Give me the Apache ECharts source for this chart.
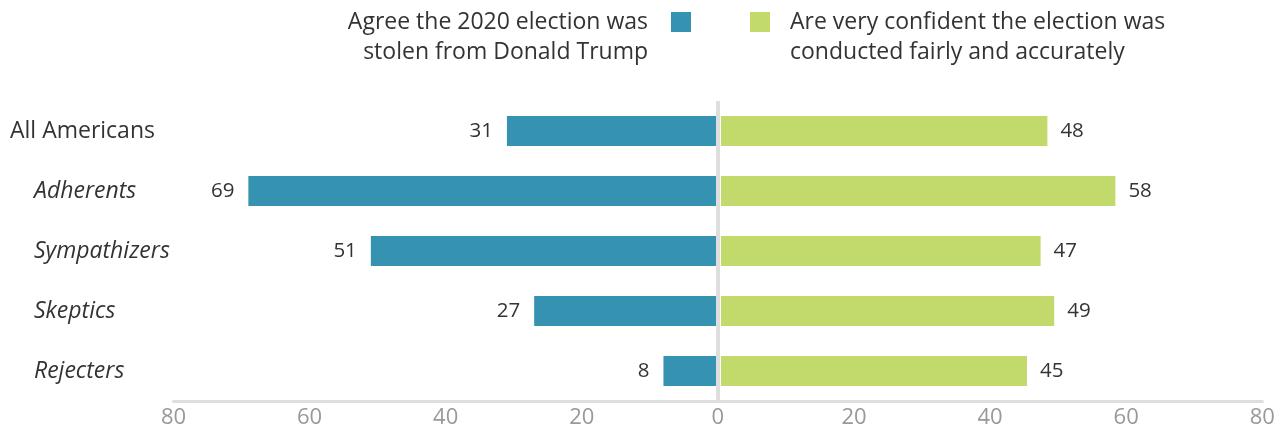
<!DOCTYPE html>
<html>
<head>
<meta charset="utf-8">
<script src="https://cdn.jsdelivr.net/npm/echarts@6/dist/echarts.min.js"></script>
<style>
  html, body { margin: 0; padding: 0; background: #fff; }
  #chart { width: 1286px; height: 431px; }
</style>
</head>
<body>
<div id="chart"></div>
<script>
// Survey groups, top to bottom
const categories = ['All Americans', 'Adherents', 'Sympathizers', 'Skeptics', 'Rejecters'];
// Share (%) agreeing the 2020 election was stolen
const stolenValues = [31, 69, 51, 27, 8];
// Share (%) very confident the election was conducted fairly
const confidentValues = [48, 58, 47, 49, 45];
// Axis tick values (left side shown as positive numbers)
const tickValues = [-80, -60, -40, -20, 0, 20, 40, 60, 80];

const stolenName = 'Agree the 2020 election was\nstolen from Donald Trump';
const confidentName = 'Are very confident the election was\nconducted fairly and accurately';

const FONT = '"Open Sans", "Noto Sans", sans-serif';
const TEAL = '#3592b0';
const GREEN = '#c2d96b';
const RULE = '#dedede';

const chart = echarts.init(document.getElementById('chart'), null, { renderer: 'canvas' });

const legendText = { fontFamily: FONT, fontSize: 23, lineHeight: 30, color: '#333' };

chart.setOption({
  animation: false,
  textStyle: { fontFamily: FONT },
  grid: [
    // full-width grid: shared scale, tick labels, left-hand bars
    { left: 173.5, right: 23.7, top: 101, bottom: 30 },
    // right-hand bars start just past the zero rule
    { left: 721, right: 21, top: 101, bottom: 30 }
  ],
  legend: [
    {
      data: [stolenName],
      right: 590,
      top: -28,
      align: 'right',
      icon: 'rect',
      itemWidth: 20,
      itemHeight: 20,
      selectedMode: false,
      formatter: n => '\n' + n,
      textStyle: Object.assign({ padding: [0, 18, 0, 0] }, legendText)
    },
    {
      data: [confidentName],
      left: 745,
      top: -28,
      align: 'left',
      icon: 'rect',
      itemWidth: 20,
      itemHeight: 20,
      selectedMode: false,
      formatter: n => '\n' + n,
      textStyle: Object.assign({ padding: [0, 0, 0, 15] }, legendText)
    }
  ],
  xAxis: [
    {
      gridIndex: 0,
      type: 'value',
      min: -80,
      max: 80,
      interval: 20,
      splitLine: { show: false },
      axisTick: { show: false },
      axisLine: { show: true, lineStyle: { color: RULE, width: 3 } },
      axisLabel: {
        color: '#999',
        fontSize: 22,
        fontFamily: FONT,
        margin: 6,
        customValues: tickValues,
        formatter: v => String(Math.abs(v))
      }
    },
    {
      gridIndex: 1,
      type: 'value',
      min: 0,
      max: 80,
      show: false
    }
  ],
  yAxis: [
    {
      gridIndex: 0,
      type: 'category',
      data: categories,
      inverse: true,
      axisLine: { show: false, onZero: false },
      axisTick: { show: false },
      axisLabel: {
        align: 'left',
        margin: 163.5,
        fontFamily: FONT,
        fontSize: 23,
        color: '#333',
        formatter: (v, i) => i === 0 ? '{main|' + v + '}' : '{sub|' + v + '}',
        rich: {
          main: { fontSize: 23, color: '#333', fontFamily: FONT },
          sub: { fontSize: 23, color: '#333', fontFamily: FONT, fontStyle: 'italic', padding: [0, 0, 0, 24] }
        }
      }
    },
    {
      gridIndex: 1,
      type: 'category',
      data: categories,
      inverse: true,
      show: false
    }
  ],
  series: [
    {
      name: stolenName,
      type: 'bar',
      xAxisIndex: 0,
      yAxisIndex: 0,
      data: stolenValues.map(v => -v),
      barWidth: 30,
      itemStyle: { color: TEAL },
      label: {
        show: true,
        position: 'left',
        distance: 14,
        fontSize: 20.5,
        fontFamily: FONT,
        color: '#333',
        formatter: p => String(Math.abs(p.value))
      },
      markLine: {
        silent: true,
        symbol: 'none',
        z: 5,
        label: { show: false },
        lineStyle: { color: RULE, width: 4, type: 'solid' },
        data: [{ xAxis: 0 }]
      },
      z: 2
    },
    {
      name: confidentName,
      type: 'bar',
      xAxisIndex: 1,
      yAxisIndex: 1,
      data: confidentValues,
      barWidth: 30,
      itemStyle: { color: GREEN },
      label: {
        show: true,
        position: 'right',
        distance: 13,
        fontSize: 20.5,
        fontFamily: FONT,
        color: '#333'
      },
      z: 2
    }
  ]
});
</script>
</body>
</html>
